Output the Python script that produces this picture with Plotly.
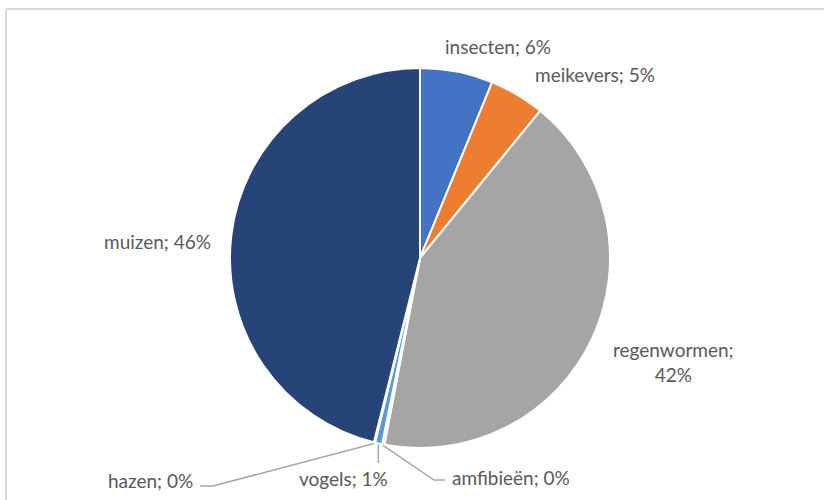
import math
import plotly.graph_objects as go

# Diet composition (share of prey items), clockwise from 12 o'clock
categories = ["insecten", "meikevers", "regenwormen", "amfibieën", "vogels", "hazen", "muizen"]
values = [6.2, 4.7, 42.1, 0.2, 0.6, 0.1, 46.1]
colors = ["#4472C4", "#ED7D31", "#A5A5A5", "#FFC000", "#5B9BD5", "#70AD47", "#264478"]

W, H = 824, 500
CX, CY, R = 420, 258, 190  # pie centre and radius in pixels


def px(x):
    return x / W


def py(y):
    return 1 - y / H


total = sum(values)
pct = [v / total for v in values]


def label_text(i, sep="; "):
    return f"{categories[i]}{sep}{round(pct[i] * 100):.0f}%"


def edge_point(i, rr=R + 1):
    """Point on the rim at the middle of slice i (clockwise from top)."""
    start = sum(pct[:i])
    mid = (start + pct[i] / 2) * 2 * math.pi
    return CX + rr * math.sin(mid), CY - rr * math.cos(mid)


fig = go.Figure(
    go.Pie(
        labels=categories,
        values=values,
        sort=False,
        direction="clockwise",
        rotation=0,
        marker=dict(colors=colors, line=dict(color="white", width=2)),
        textinfo="none",
        hoverinfo="label+percent",
        showlegend=False,
        domain=dict(x=[px(CX - R), px(CX + R)], y=[py(CY + R), py(CY - R)]),
    )
)

font = dict(family="Lato, Liberation Sans, sans-serif", size=19, color="#595959")
idx = {c: i for i, c in enumerate(categories)}

annotations = []
shapes = []

# Labels placed next to their slices
placed = [
    ("insecten", 498, 47, label_text(idx["insecten"])),
    ("meikevers", 595, 74, label_text(idx["meikevers"])),
    ("muizen", 157, 241, label_text(idx["muizen"])),
    ("regenwormen", 673, 362, label_text(idx["regenwormen"], ";<br>")),
    ("hazen", 150, 480, label_text(idx["hazen"])),
    ("vogels", 343, 478, label_text(idx["vogels"])),
    ("amfibieën", 511, 477, label_text(idx["amfibieën"])),
]
for name, x, y, txt in placed:
    annotations.append(
        dict(
            x=px(x), y=py(y), xref="paper", yref="paper",
            text=txt, showarrow=False, xanchor="center", yanchor="middle",
            font=font, align="center",
        )
    )

# Leader lines for the tiny slices at the bottom
line_style = dict(color="#A6A6A6", width=1.5)


def leader(points):
    path = "M " + " L ".join(f"{px(x)},{py(y)}" for x, y in points)
    shapes.append(dict(type="path", path=path, xref="paper", yref="paper", line=line_style))


leader([edge_point(idx["hazen"]), (213, 486), (200, 486)])
vx, vy = edge_point(idx["vogels"])
leader([(vx, vy), (vx, 463)])
leader([edge_point(idx["amfibieën"]), (434, 480), (445, 480)])

# Chart area border (top and left edges visible)
shapes.append(dict(type="line", xref="paper", yref="paper",
                   x0=px(6), y0=py(9), x1=px(830), y1=py(9),
                   line=dict(color="#D9D9D9", width=2)))
shapes.append(dict(type="line", xref="paper", yref="paper",
                   x0=px(6), y0=py(9), x1=px(6), y1=py(505),
                   line=dict(color="#D9D9D9", width=2)))

fig.update_layout(
    width=W, height=H,
    margin=dict(l=0, r=0, t=0, b=0),
    paper_bgcolor="white",
    plot_bgcolor="white",
    annotations=annotations,
    shapes=shapes,
)

fig.write_html("out.html")
